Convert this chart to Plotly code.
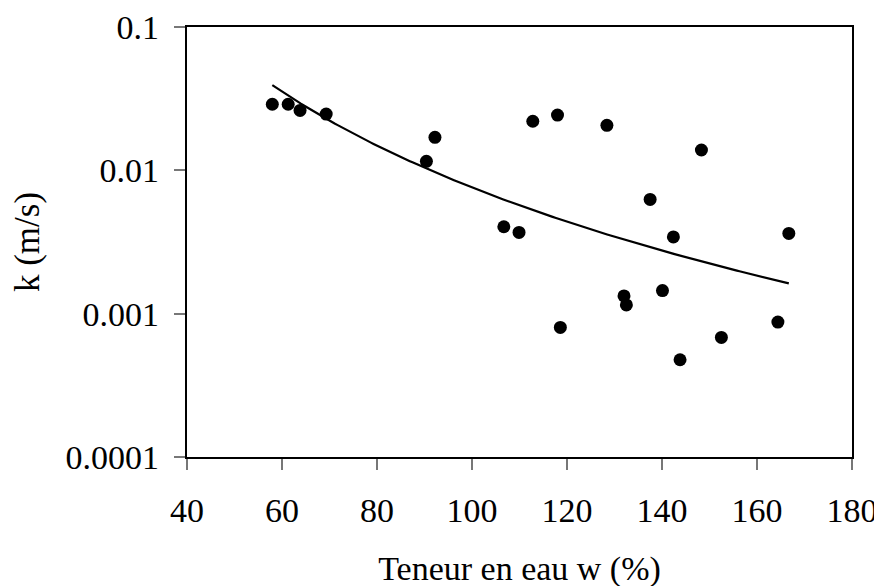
import numpy as np
import plotly.graph_objects as go

# Data
teneur_w = [57.96, 61.3, 63.8, 69.3, 90.4, 92.2, 106.7, 109.9, 112.8, 118.0,
            118.6, 128.4, 132.0, 132.5, 137.5, 140.1, 142.4, 143.8, 148.3,
            152.5, 164.4, 166.7]
k_ms = [0.0289, 0.0289, 0.0262, 0.0247, 0.01156, 0.0170, 0.00404, 0.00369,
        0.0220, 0.0243, 0.000802, 0.0206, 0.00133, 0.00115, 0.00627, 0.00145,
        0.00343, 0.000477, 0.01386, 0.000683, 0.000873, 0.00363]

y_tickvals = [0.0001, 0.001, 0.01, 0.1]
y_ticktext = ["0.0001", "0.001", "0.01", "0.1"]
x_tickvals = [40, 60, 80, 100, 120, 140, 160, 180]

# Power trendline (least squares in log-log space, like a spreadsheet power fit)
b, a = np.polyfit(np.log10(teneur_w), np.log10(k_ms), 1)
xf = np.linspace(min(teneur_w), max(teneur_w), 200)
yf = 10 ** (a + b * np.log10(xf))

FONT = "Liberation Serif, Times New Roman, serif"

fig = go.Figure()
fig.add_trace(go.Scatter(x=xf, y=yf, mode="lines",
                         line=dict(color="black", width=2.2), hoverinfo="skip",
                         showlegend=False))
fig.add_trace(go.Scatter(x=teneur_w, y=k_ms, mode="markers",
                         marker=dict(color="black", size=13), showlegend=False))

# the page body has an 8px default margin, so the margins are offset by it
fig.update_layout(
    width=882, height=586,
    margin=dict(l=179, r=38, t=19, b=137, autoexpand=False),
    paper_bgcolor="white", plot_bgcolor="white",
    font=dict(family=FONT, size=34, color="black"),
    xaxis=dict(
        range=[40, 180], tickvals=x_tickvals,
        ticks="outside", ticklen=11, tickwidth=1.5, tickcolor="#777777",
        showline=True, linecolor="black", linewidth=2.2, mirror=True,
        showgrid=False, zeroline=False, automargin=False,
        ticklabelstandoff=11,
        title=dict(text="Teneur en eau w (%)", font=dict(size=34), standoff=28),
    ),
    yaxis=dict(
        type="log", range=[-4, -1],
        tickvals=y_tickvals, ticktext=y_ticktext,
        ticks="outside", ticklen=11, tickwidth=1.5, tickcolor="#777777",
        showline=True, linecolor="black", linewidth=2.2, mirror=True,
        showgrid=False, zeroline=False, automargin=False,
        ticklabelstandoff=8,
        title=dict(text="k (m/s)", font=dict(size=35), standoff=22),
    ),
)

fig.write_html("out.html")
